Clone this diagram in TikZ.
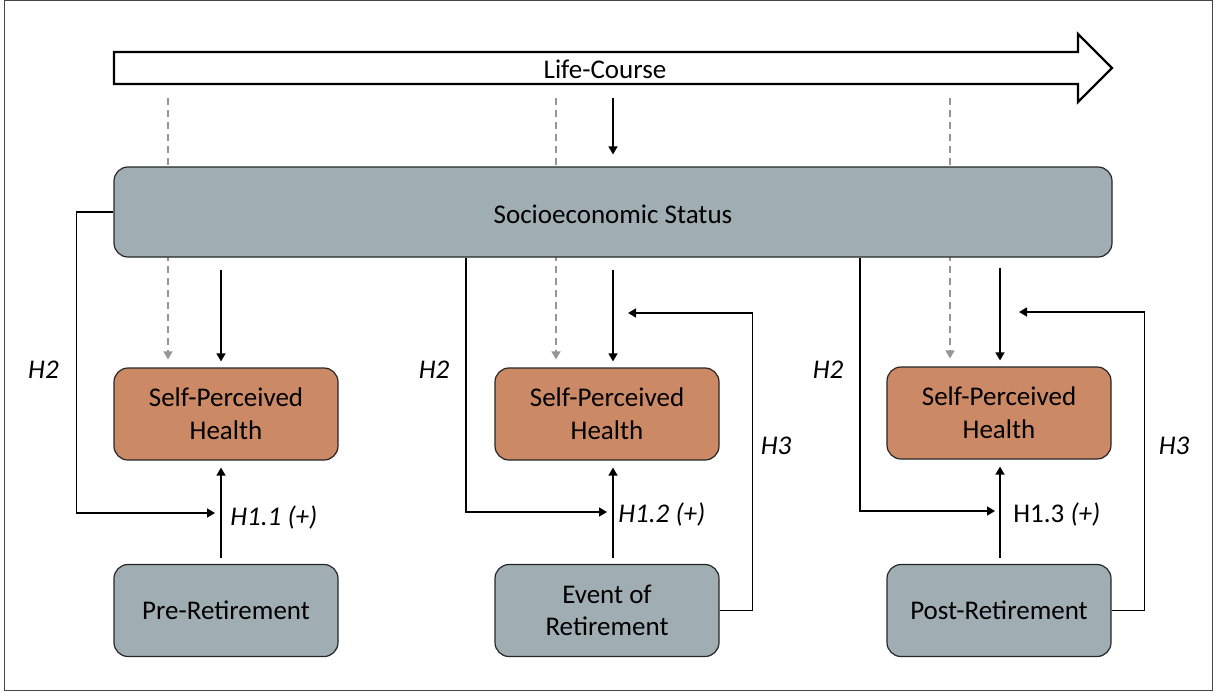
\documentclass[tikz,border=0pt]{standalone}
\usepackage{fontspec}
\setmainfont{Carlito}
\usetikzlibrary{arrows.meta,backgrounds,calc}
\definecolor{sesgray}{RGB}{160,174,180}
\definecolor{sphorange}{RGB}{204,137,102}
\definecolor{dashgray}{RGB}{150,150,150}
\definecolor{framegray}{RGB}{70,70,70}
\tikzset{
  box/.style={draw=black!85, line width=0.6pt, rounded corners=7pt, minimum width=112pt, minimum height=46pt, align=center, inner sep=0pt, font=\fontsize{13.5}{16.3}\selectfont},
  sesbox/.style={box, fill=sesgray},
  sphbox/.style={box, fill=sphorange},
  arr/.style={line width=0.75pt, -{Triangle[width=4.5pt,length=4pt]}},
  conn/.style={line width=0.75pt},
  dasharr/.style={dashgray, line width=0.75pt, dash pattern=on 3.5pt off 2.5pt, -{Triangle[width=4.5pt,length=4pt]}},
  lbl/.style={font=\fontsize{13.5}{16.3}\selectfont\itshape, inner sep=0pt, anchor=base}
}
\begin{document}
\begin{tikzpicture}[x=0.5pt,y=-0.5pt]
\useasboundingbox (0,0) rectangle (1214,692);
\draw[framegray, line width=0.6pt] (4.5,0.5) rectangle (1212.5,690.5);

% Life-course arrow
\draw[line width=1.1pt, fill=white] (114,52) -- (1078,52) -- (1078,34) -- (1112,68) -- (1078,102) -- (1078,84) -- (114,84) -- cycle;
\node[font=\fontsize{13.5}{16.3}\selectfont, inner sep=0pt, anchor=base] (lc) at (605,78) {Life-Course};

% nodes
\node[sesbox, minimum width=499pt, minimum height=45pt] (ses) at (613,212) {};
\node[font=\fontsize{13.5}{16.3}\selectfont, inner sep=0pt, anchor=base] (sest) at (613,223) {Socioeconomic Status};

\node[sphbox] (sph1) at (226,414) {Self-Perceived\\Health};
\node[sphbox] (sph2) at (607,414) {Self-Perceived\\Health};
\node[sphbox] (sph3) at (999,413) {Self-Perceived\\Health};

\node[sesbox] (pre) at (226,610.5) {Pre-Retirement};
\node[sesbox] (ev) at (607,610.5) {Event of\\Retirement};
\node[sesbox] (post) at (999,610.5) {Post-Retirement};

% dashed lines behind SES
\coordinate (d1) at (168,98);
\coordinate (d2) at (556,98);
\coordinate (d3) at (950,98);
\begin{pgfonlayer}{background}
\draw[dasharr, shorten >=4pt] (d1) -- (d1 |- sph1.north);
\draw[dasharr, shorten >=4pt] (d2) -- (d2 |- sph2.north);
\draw[dasharr, shorten >=4pt] (d3) -- (d3 |- sph3.north);
\end{pgfonlayer}

% life-course to SES
\coordinate (lcx) at (613,84);
\draw[arr, shorten <=7pt, shorten >=6pt] (lcx) -- (lcx |- ses.north);

% SES to SPH
\coordinate (a1) at (221,0);
\coordinate (a2) at (613,0);
\coordinate (a3) at (1000,0);
\draw[arr, shorten <=6pt, shorten >=3pt] (a1 |- ses.south) -- (a1 |- sph1.north);
\draw[arr, shorten <=6pt, shorten >=3pt] (a2 |- ses.south) -- (a2 |- sph2.north);
\draw[arr, shorten <=5pt, shorten >=3pt] (a3 |- ses.south) -- (a3 |- sph3.north);

% bottom to SPH
\draw[arr, shorten <=3pt, shorten >=3.5pt] (a1 |- pre.north) -- (a1 |- sph1.south);
\draw[arr, shorten <=3pt, shorten >=3.5pt] (a2 |- ev.north) -- (a2 |- sph2.south);
\draw[arr, shorten <=3pt, shorten >=3.5pt] (a3 |- post.north) -- (a3 |- sph3.south);

% H2 paths
\coordinate (m1) at (215,513);
\coordinate (m2) at (607,512);
\coordinate (m3) at (995,511);
\coordinate (s2) at (466,0);
\coordinate (s3) at (860,0);
\draw[arr] (ses.west) -- ++(-37,0) |- (m1);
\draw[arr] (s2 |- ses.south) |- (m2);
\draw[arr] (s3 |- ses.south) |- (m3);

% H3 paths
\coordinate (t2) at (628,313);
\coordinate (t3) at (1019,312);
\draw[arr] (ev.east) -- ++(33,0) |- (t2);
\draw[arr] (post.east) -- ++(33,0) |- (t3);

% labels
\node[lbl] (h2a) at (43.5,378) {H2};
\node[lbl] (h2b) at (434,378) {H2};
\node[lbl] (h2c) at (828,378) {H2};
\node[lbl, anchor=base west] (h11) at (230,525) {H1.1 (+)};
\node[lbl, anchor=base west] (h12) at (618,522) {H1.2 (+)};
\node[lbl, anchor=base west, font=\fontsize{13.5}{16.3}\selectfont] (h13) at (1013,522) {H1.3 \textit{(+)}};
\node[lbl] (h3a) at (776,454) {H3};
\node[lbl] (h3b) at (1174,454) {H3};
\end{tikzpicture}
\end{document}
